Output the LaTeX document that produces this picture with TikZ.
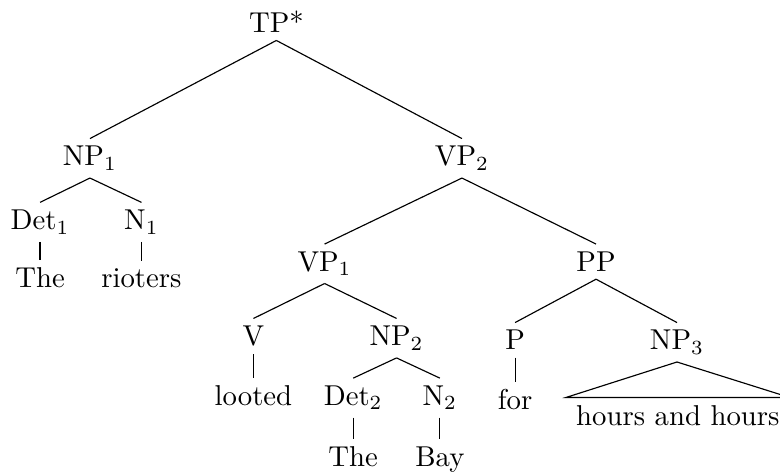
\documentclass[tikz,border=0pt]{standalone}
\usepackage{amssymb,amsmath}
\usepackage{tikz}
\usetikzlibrary{shapes}

\begin{document}
\begin{tikzpicture}[scale=1.0,
    cat/.style={anchor=base, inner ysep=2.5pt}]
  \clip (0,0) rectangle (9.54,5.81);
  % phrase level
  \node[cat] (tp)  at (3.38,5.41) {TP*};
  \node[cat] (np1) at (1.10,3.78) {NP$_1$};
  \node[cat] (vp2) at (5.65,3.78) {VP$_2$};
  \node[cat] (det1) at (0.49,3.00) {Det$_1$};
  \node[cat] (n1)  at (1.73,3.00) {N$_1$};
  \node[cat] (vp1) at (3.97,2.49) {VP$_1$};
  \node[cat] (pp)  at (7.29,2.49) {PP};
  \node[cat] (v)   at (3.10,1.58) {V};
  \node[cat] (np2) at (4.85,1.58) {NP$_2$};
  \node[cat] (p)   at (6.30,1.53) {P};
  \node[cat] (np3) at (8.28,1.53) {NP$_3$};
  \node[cat] (det2) at (4.32,0.85) {Det$_2$};
  \node[cat] (n2)  at (5.38,0.85) {N$_2$};
  % words
  \node[cat] (the1)    at (0.49,2.29) {The};
  \node[cat] (rioters) at (1.73,2.29) {rioters};
  \node[cat] (looted)  at (3.10,0.85) {looted};
  \node[cat] (for)     at (6.30,0.80) {for};
  \node[cat] (hours)   at (8.29,0.61) {hours and hours};
  \node[cat] (the2)    at (4.32,0.10) {The};
  \node[cat] (bay)     at (5.38,0.10) {Bay};
  \foreach \a/\b in {tp/np1, tp/vp2, np1/det1, np1/n1, det1/the1, n1/rioters,
      vp2/vp1, vp2/pp, vp1/v, vp1/np2, v/looted, np2/det2, np2/n2,
      det2/the2, n2/bay, pp/p, pp/np3, p/for}
    \draw (\a.south) -- (\b.north);
  % roof
  \draw (np3.south) -- (hours.north west) -- (hours.north east) -- cycle;
\end{tikzpicture}
\end{document}
